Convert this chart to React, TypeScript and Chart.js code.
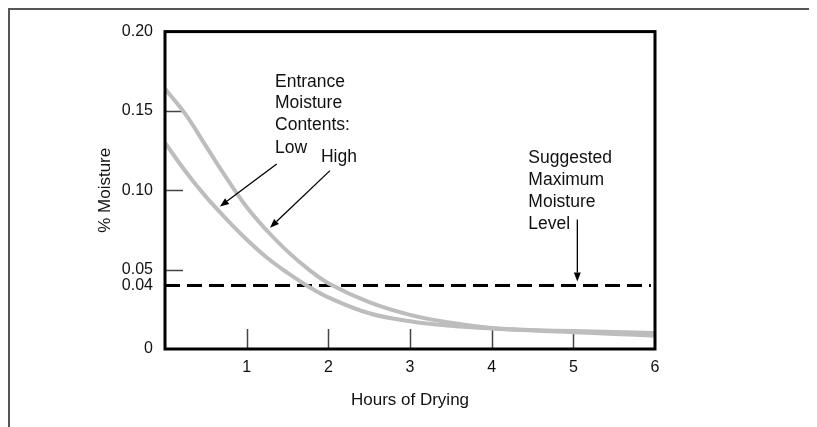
import React, { useEffect, useRef } from 'react';
import { Chart, registerables } from 'chart.js';

Chart.register(...registerables);

// ---- data ----
const hours = [0, 0.25, 0.5, 0.75, 1, 1.25, 1.5, 1.75, 2, 2.5, 3, 3.5, 4, 4.5, 5, 5.5, 6];
const lowMoisture = [0.130, 0.112, 0.096, 0.082, 0.069, 0.0575, 0.048, 0.0395, 0.0325, 0.0225, 0.0175, 0.0146, 0.0129, 0.0119, 0.0113, 0.0107, 0.0101];
const highMoisture = [0.164, 0.148, 0.128, 0.108, 0.0895, 0.0745, 0.0615, 0.0505, 0.0415, 0.0295, 0.0215, 0.0165, 0.0132, 0.0116, 0.0106, 0.0095, 0.0084];
const thresholdHours = [0, 5.95];
const maxMoistureLevel = 0.04;

const xTickValues = [1, 2, 3, 4, 5, 6];
const yTickValues = [0, 0.04, 0.05, 0.1, 0.15, 0.2];
const innerXTicks = [1, 2, 3, 4, 5];
const innerYTicks = [0.05, 0.1, 0.15];

const entranceLines = ['Entrance', 'Moisture', 'Contents:', 'Low'];
const highLabel = 'High';
const suggestedLines = ['Suggested', 'Maximum', 'Moisture', 'Level'];

const FONT = "'Liberation Sans', Arial, sans-serif";

// annotation anchors in data units (hours, moisture)
const entranceX = 1.347;
const entranceBaselines = [0.165, 0.1516, 0.1382, 0.1232];
const highPos = { x: 1.91, y: 0.1176 };
const suggestedX = 4.449;
const suggestedBaselines = [0.117, 0.1032, 0.0894, 0.0758];
const arrows = [
  { from: { x: 1.368, y: 0.1166 }, to: { x: 0.673, y: 0.0898 } },
  { from: { x: 2.02, y: 0.1124 }, to: { x: 1.286, y: 0.0764 } },
  { from: { x: 5.049, y: 0.0816 }, to: { x: 5.049, y: 0.0426 } },
];

const annotatePlugin = {
  id: 'annotate',
  beforeDatasetsDraw(chart: any) {
    const { ctx, chartArea: a, scales } = chart;
    const x = scales.x, y = scales.y;
    ctx.save();
    ctx.strokeStyle = '#444';
    ctx.lineWidth = 1.5;
    innerXTicks.forEach((v) => {
      const px = Math.round(x.getPixelForValue(v)) + 0.5;
      ctx.beginPath();
      ctx.moveTo(px, a.bottom);
      ctx.lineTo(px, a.bottom - 20);
      ctx.stroke();
    });
    innerYTicks.forEach((v) => {
      const py = Math.round(y.getPixelForValue(v)) + 0.5;
      ctx.beginPath();
      ctx.moveTo(a.left, py);
      ctx.lineTo(a.left + 18, py);
      ctx.stroke();
    });
    ctx.restore();
  },
  afterDatasetsDraw(chart: any) {
    const { ctx, chartArea: a, scales } = chart;
    const x = scales.x, y = scales.y;
    ctx.save();
    // frame
    ctx.strokeStyle = '#000';
    ctx.lineWidth = 3;
    ctx.strokeRect(a.left, a.top, a.right - a.left, a.bottom - a.top);

    // texts
    ctx.fillStyle = '#111';
    ctx.font = `17.5px ${FONT}`;
    ctx.textAlign = 'left';
    ctx.textBaseline = 'alphabetic';
    entranceLines.forEach((t, i) => {
      ctx.fillText(t, x.getPixelForValue(entranceX), y.getPixelForValue(entranceBaselines[i]));
    });
    ctx.fillText(highLabel, x.getPixelForValue(highPos.x), y.getPixelForValue(highPos.y));
    suggestedLines.forEach((t, i) => {
      ctx.fillText(t, x.getPixelForValue(suggestedX), y.getPixelForValue(suggestedBaselines[i]));
    });

    // arrows
    ctx.strokeStyle = '#000';
    ctx.fillStyle = '#000';
    ctx.lineWidth = 1.3;
    arrows.forEach(({ from, to }) => {
      const x1 = x.getPixelForValue(from.x), y1 = y.getPixelForValue(from.y);
      const x2 = x.getPixelForValue(to.x), y2 = y.getPixelForValue(to.y);
      const ang = Math.atan2(y2 - y1, x2 - x1);
      const len = 9, hw = 3.5;
      const bx = x2 - len * Math.cos(ang), by = y2 - len * Math.sin(ang);
      ctx.beginPath();
      ctx.moveTo(x1, y1);
      ctx.lineTo(bx, by);
      ctx.stroke();
      ctx.beginPath();
      ctx.moveTo(x2, y2);
      ctx.lineTo(bx + hw * Math.sin(ang), by - hw * Math.cos(ang));
      ctx.lineTo(bx - hw * Math.sin(ang), by + hw * Math.cos(ang));
      ctx.closePath();
      ctx.fill();
    });
    ctx.restore();
  },
};

export default function App() {
  const ref = useRef<HTMLCanvasElement>(null);

  useEffect(() => {
    if (!ref.current) return;
    const curveStyle = {
      borderColor: '#bdbdc0',
      borderWidth: 4,
      pointRadius: 0,
      fill: false,
      tension: 0.4,
    };
    const chart = new Chart(ref.current, {
      type: 'line',
      data: {
        datasets: [
          { label: 'Low', data: hours.map((h, i) => ({ x: h, y: lowMoisture[i] })), ...curveStyle },
          { label: 'High', data: hours.map((h, i) => ({ x: h, y: highMoisture[i] })), ...curveStyle },
          {
            label: 'Suggested Maximum Moisture Level',
            data: thresholdHours.map((h) => ({ x: h, y: maxMoistureLevel })),
            borderColor: '#000',
            borderWidth: 3,
            borderDash: [15, 7],
            pointRadius: 0,
            fill: false,
          },
        ],
      },
      options: {
        animation: false,
        responsive: false,
        devicePixelRatio: 1,
        layout: { padding: { left: 0, top: 15, right: 162, bottom: 0 } },
        plugins: { legend: { display: false }, tooltip: { enabled: false } },
        scales: {
          x: {
            type: 'linear',
            min: 0,
            max: 6,
            grid: { display: false, drawTicks: false },
            border: { display: false },
            afterBuildTicks: (s: any) => {
              s.ticks = xTickValues.map((v) => ({ value: v }));
            },
            afterFit: (s: any) => {
              s.height = 78;
            },
            ticks: {
              autoSkip: false,
              maxRotation: 0,
              padding: 9,
              color: '#111',
              font: { family: FONT, size: 16 },
              callback: (v: any) => String(v),
            },
            title: {
              display: true,
              text: 'Hours of Drying',
              color: '#111',
              font: { family: FONT, size: 17 },
              padding: { top: 0, bottom: 16 },
            },
          },
          y: {
            type: 'linear',
            min: 0,
            max: 0.2,
            grid: { display: false, drawTicks: false },
            border: { display: false },
            afterBuildTicks: (s: any) => {
              s.ticks = yTickValues.map((v) => ({ value: v }));
            },
            afterFit: (s: any) => {
              s.width = 155;
            },
            ticks: {
              autoSkip: false,
              padding: 12,
              color: '#111',
              font: { family: FONT, size: 16 },
              callback: (v: any) => (Number(v) === 0 ? '0' : Number(v).toFixed(2)),
            },
            title: {
              display: true,
              text: '% Moisture',
              color: '#111',
              font: { family: FONT, size: 17 },
              padding: { top: 85, bottom: 0 },
            },
          },
        },
      },
      plugins: [annotatePlugin],
    });
    return () => chart.destroy();
  }, []);

  return (
    <div
      style={{
        width: 809,
        height: 419,
        boxSizing: 'border-box',
        borderTop: '2px solid #555',
        borderLeft: '2px solid #555',
        overflow: 'hidden',
      }}
    >
      <canvas ref={ref} width={807} height={417} style={{ display: 'block', width: 807, height: 417 }} />
    </div>
  );
}
